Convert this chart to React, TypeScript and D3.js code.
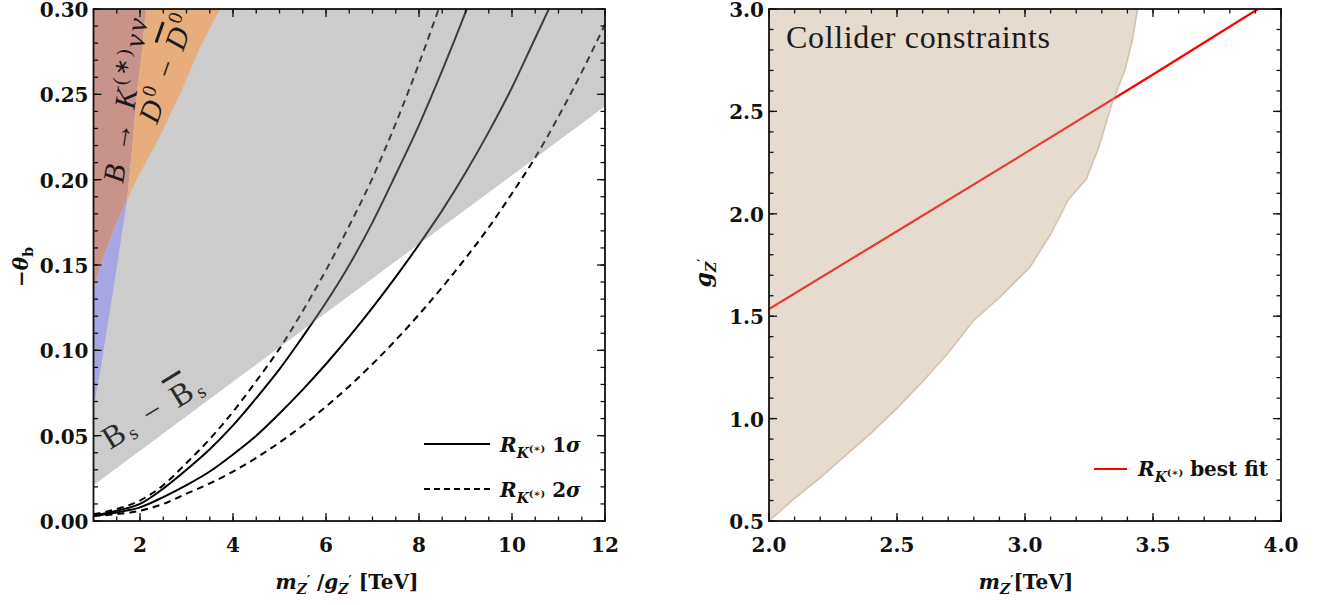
import * as d3 from "d3";

type Pt = [number, number];

// ---------- left panel: -theta_b against m_Z'/g_Z' [TeV]
const rk2Upper: Pt[] = [
  [1, 0.004], [1.5, 0.007], [2, 0.012], [2.5, 0.021], [3, 0.034], [3.5, 0.048],
  [4, 0.064], [4.5, 0.082], [5, 0.101], [5.5, 0.123], [6, 0.147], [6.5, 0.173],
  [7, 0.201], [7.5, 0.233], [8, 0.268], [8.5, 0.306],
];
const rk1Upper: Pt[] = [
  [1, 0.003], [1.5, 0.006], [2, 0.01], [2.5, 0.019], [3, 0.03], [3.5, 0.042],
  [4, 0.056], [4.5, 0.072], [5, 0.089], [5.5, 0.108], [6, 0.128], [6.5, 0.15],
  [7, 0.175], [7.5, 0.203], [8, 0.232], [8.5, 0.264], [9, 0.298], [9.5, 0.334],
];
const rk1Lower: Pt[] = [
  [1, 0.003], [1.5, 0.005], [2, 0.008], [2.5, 0.014], [3, 0.021], [3.5, 0.029],
  [4, 0.039], [4.5, 0.05], [5, 0.063], [5.5, 0.077], [6, 0.092], [6.5, 0.108],
  [7, 0.125], [7.5, 0.143], [8, 0.162], [8.5, 0.182], [9, 0.204], [9.5, 0.228],
  [10, 0.254], [10.5, 0.283], [11, 0.312],
];
const rk2Lower: Pt[] = [
  [1, 0.003], [1.5, 0.004], [2, 0.006], [2.5, 0.01], [3, 0.016], [3.5, 0.022],
  [4, 0.029], [4.5, 0.037], [5, 0.046], [5.5, 0.056], [6, 0.067], [6.5, 0.079],
  [7, 0.092], [7.5, 0.106], [8, 0.121], [8.5, 0.137], [9, 0.154], [9.5, 0.172],
  [10, 0.192], [10.5, 0.213], [11, 0.237], [11.5, 0.263], [12, 0.291],
];

// Bs mixing bound (straight edge of the grey area)
const bsEdge: Pt[] = [[1, 0.021], [12, 0.243]];
const bknnRegion: Pt[] = [
  [1, 0.3], [2.13, 0.3], [2.03, 0.272], [1.93, 0.25], [1.83, 0.218], [1.72, 0.188],
  [1.42, 0.17], [1.14, 0.149], [1, 0.135],
];
const ddRegion: Pt[] = [
  [2.13, 0.3], [3.72, 0.3], [3.3, 0.278], [2.86, 0.25], [2.4, 0.224], [1.92, 0.2],
  [1.72, 0.188], [1.83, 0.218], [1.93, 0.25], [2.03, 0.272],
];
const blueRegion: Pt[] = [
  [1, 0.135], [1.14, 0.149], [1.42, 0.17], [1.72, 0.188], [1.62, 0.17], [1.48, 0.145],
  [1.32, 0.118], [1.17, 0.092], [1, 0.066],
];

const leftXMajor = [2, 4, 6, 8, 10, 12];
const leftYMajor = [0, 0.05, 0.1, 0.15, 0.2, 0.25, 0.3];

// ---------- right panel: g_Z' against m_Z' [TeV]
const colliderEdge: Pt[] = [
  [2.0, 0.5], [2.1, 0.61], [2.2, 0.71], [2.3, 0.82], [2.4, 0.93], [2.5, 1.05],
  [2.6, 1.18], [2.7, 1.32], [2.8, 1.48], [2.9, 1.59], [3.02, 1.74], [3.1, 1.9],
  [3.17, 2.07], [3.24, 2.17], [3.29, 2.33], [3.34, 2.54], [3.39, 2.7], [3.42, 2.85],
  [3.44, 3.0],
];
const bestFit: Pt[] = [
  [2.0, 1.535], [2.5, 1.915], [3.0, 2.296], [3.5, 2.68], [3.91, 3.0],
];

const rightXMajor = [2, 2.5, 3, 3.5, 4];
const rightYMajor = [0.5, 1, 1.5, 2, 2.5, 3];

const TICK_FONT = "DejaVu Serif";
const MATH_FONT = "Liberation Serif";

type Scale = d3.ScaleLinear<number, number>;

function Frame(props: {
  x: Scale;
  y: Scale;
  xMajor: number[];
  xMinor: number[];
  yMajor: number[];
  yMinor: number[];
  xFmt: (v: number) => string;
  yFmt: (v: number) => string;
}) {
  const { x, y, xMajor, xMinor, yMajor, yMinor, xFmt, yFmt } = props;
  const [x0, x1] = x.range();
  const [y0, y1] = y.range(); // y0 bottom, y1 top
  const ticks: JSX.Element[] = [];
  const tx = (v: number, len: number, k: string) => {
    const px = x(v);
    ticks.push(<line key={"b" + k} x1={px} x2={px} y1={y0} y2={y0 - len} />);
    ticks.push(<line key={"t" + k} x1={px} x2={px} y1={y1} y2={y1 + len} />);
  };
  const ty = (v: number, len: number, k: string) => {
    const py = y(v);
    ticks.push(<line key={"l" + k} x1={x0} x2={x0 + len} y1={py} y2={py} />);
    ticks.push(<line key={"r" + k} x1={x1} x2={x1 - len} y1={py} y2={py} />);
  };
  xMinor.forEach((v, i) => tx(v, 4.5, "xm" + i));
  xMajor.forEach((v, i) => tx(v, 8, "xM" + i));
  yMinor.forEach((v, i) => ty(v, 4.5, "ym" + i));
  yMajor.forEach((v, i) => ty(v, 8, "yM" + i));
  return (
    <g>
      <g stroke="#111" strokeWidth={1.3}>{ticks}</g>
      <rect x={x0} y={y1} width={x1 - x0} height={y0 - y1} fill="none" stroke="#111" strokeWidth={1.8} />
      <g fontFamily={TICK_FONT} fontWeight="bold" fontSize={20} fill="#111">
        {xMajor.map((v) => (
          <text key={"xl" + v} x={x(v)} y={552} textAnchor="middle">{xFmt(v)}</text>
        ))}
        {yMajor.map((v) => (
          <text key={"yl" + v} x={x0 - 5} y={y(v) + 8} textAnchor="end">{yFmt(v)}</text>
        ))}
      </g>
    </g>
  );
}

// subscript Z with a prime, used in the axis titles
const zPrime = (
  <>
    <tspan fontStyle="italic" fontSize={14} dy={5}>Z</tspan>
    <tspan fontSize={12} dy={-9}>′</tspan>
    <tspan dy={4}> </tspan>
  </>
);

export default function App() {
  const xL = d3.scaleLinear().domain([1, 12]).range([93.5, 605]);
  const yL = d3.scaleLinear().domain([0, 0.3]).range([521, 9]);
  const xR = d3.scaleLinear().domain([2, 4]).range([769, 1281]);
  const yR = d3.scaleLinear().domain([0.5, 3]).range([521, 9]);

  const lineL = d3.line<Pt>().x((d) => xL(d[0])).y((d) => yL(d[1])).curve(d3.curveMonotoneX);
  const polyL = d3.line<Pt>().x((d) => xL(d[0])).y((d) => yL(d[1])).curve(d3.curveLinearClosed);
  const lineR = d3.line<Pt>().x((d) => xR(d[0])).y((d) => yR(d[1]));
  const polyR = d3.line<Pt>().x((d) => xR(d[0])).y((d) => yR(d[1])).curve(d3.curveLinearClosed);

  const grayPoly: Pt[] = [...bsEdge, [12, 0.3], [1, 0.3]];
  const colliderPoly: Pt[] = [...colliderEdge, [2, 3]];

  const sub = (
    <>
      <tspan fontStyle="italic" fontSize={14} dy={6}>K</tspan>
      <tspan fontSize={10} dy={-6}>(∗)</tspan>
    </>
  );

  return (
    <svg width={1325} height={605} style={{ position: "absolute", left: 0, top: 0 }}>
      <defs>
        <clipPath id="clipL">
          <rect x={93.5} y={9} width={511.5} height={512} />
        </clipPath>
        <clipPath id="clipR">
          <rect x={769} y={9} width={512} height={512} />
        </clipPath>
      </defs>
      <rect width={1325} height={605} fill="white" />

      {/* left panel */}
      <g clipPath="url(#clipL)">
        <g fill="none" stroke="#000" strokeWidth={2}>
          <path d={lineL(rk1Upper) ?? ""} />
          <path d={lineL(rk1Lower) ?? ""} />
          <path d={lineL(rk2Upper) ?? ""} strokeDasharray="7,5" />
          <path d={lineL(rk2Lower) ?? ""} strokeDasharray="7,5" />
        </g>
        <path d={polyL(grayPoly) ?? ""} fill="#8c8c8c" fillOpacity={0.44} />
        <path d={polyL(blueRegion) ?? ""} fill="#a6a6e2" />
        <path d={polyL(bknnRegion) ?? ""} fill="#c8938a" />
        <path d={polyL(ddRegion) ?? ""} fill="#e8ad7c" />
      </g>
      <g fontFamily={MATH_FONT} fontSize={30} fill="#1a1a1a">
        <text transform="translate(123,184) rotate(-81.4)" textLength={166} lengthAdjust="spacing">
          <tspan fontStyle="italic">B</tspan>
          <tspan> → </tspan>
          <tspan fontStyle="italic">K</tspan>
          <tspan fontSize={20} dy={-12}>(∗)</tspan>
          <tspan fontStyle="italic" dy={12}>νν</tspan>
        </text>
        <text transform="translate(157,125) rotate(-70.5)" textLength={112} lengthAdjust="spacing">
          <tspan fontStyle="italic">D</tspan>
          <tspan fontSize={20} dy={-12}>0</tspan>
          <tspan dy={12}> − </tspan>
          <tspan fontStyle="italic" style={{ textDecoration: "overline" }}>D</tspan>
          <tspan fontSize={20} dy={-12}>0</tspan>
        </text>
        <text transform="translate(110,450) rotate(-31.5)" fill="#2a2a2a" fontSize={32} textLength={112} lengthAdjust="spacing">
          <tspan>B</tspan>
          <tspan fontSize={20} dy={4}>s</tspan>
          <tspan dy={-4}> − </tspan>
          <tspan style={{ textDecoration: "overline" }}>B</tspan>
          <tspan fontSize={20} dy={4}>s</tspan>
        </text>
      </g>
      <Frame
        x={xL}
        y={yL}
        xMajor={leftXMajor}
        xMinor={d3.range(1, 12.01, 0.5)}
        yMajor={leftYMajor}
        yMinor={d3.range(0, 0.3001, 0.01)}
        xFmt={(v) => String(v)}
        yFmt={(v) => v.toFixed(2)}
      />
      {/* left legend */}
      <line x1={424} x2={490} y1={444} y2={444} stroke="#000" strokeWidth={2} />
      <line x1={424} x2={490} y1={489} y2={489} stroke="#000" strokeWidth={2} strokeDasharray="6,4" />
      <g fontFamily={TICK_FONT} fontWeight="bold" fontSize={20} fill="#111">
        <text x={500} y={452}>
          <tspan fontStyle="italic">R</tspan>
          {sub}
          <tspan> 1</tspan>
          <tspan fontStyle="italic">σ</tspan>
        </text>
        <text x={500} y={497}>
          <tspan fontStyle="italic">R</tspan>
          {sub}
          <tspan> 2</tspan>
          <tspan fontStyle="italic">σ</tspan>
        </text>
        {/* left axis titles */}
        <text x={347} y={589} textAnchor="middle">
          <tspan fontStyle="italic">m</tspan>
          {zPrime}
          <tspan>/</tspan>
          <tspan fontStyle="italic">g</tspan>
          {zPrime}
          <tspan>[TeV]</tspan>
        </text>
        <text transform="translate(28,267) rotate(-90)" textAnchor="middle">
          <tspan>−</tspan>
          <tspan fontStyle="italic">θ</tspan>
          <tspan fontSize={14} dy={5}>b</tspan>
        </text>
      </g>

      {/* right panel */}
      <g clipPath="url(#clipR)">
        <path d={lineR(bestFit) ?? ""} fill="none" stroke="#ff0000" strokeWidth={2.2} />
        <path d={polyR(colliderPoly) ?? ""} fill="rgb(189,160,130)" fillOpacity={0.38} />
        <path d={lineR(colliderEdge) ?? ""} fill="none" stroke="rgb(189,160,130)" strokeOpacity={0.55} strokeWidth={1.6} />
      </g>
      <text x={786} y={48} fontFamily={MATH_FONT} fontSize={32} fill="#1a1a1a" textLength={264} lengthAdjust="spacing">Collider constraints</text>
      <Frame
        x={xR}
        y={yR}
        xMajor={rightXMajor}
        xMinor={d3.range(2, 4.001, 0.1)}
        yMajor={rightYMajor}
        yMinor={d3.range(0.5, 3.001, 0.1)}
        xFmt={(v) => v.toFixed(1)}
        yFmt={(v) => v.toFixed(1)}
      />
      <line x1={1094} x2={1127} y1={469} y2={469} stroke="#ff0000" strokeWidth={2.2} />
      <g fontFamily={TICK_FONT} fontWeight="bold" fontSize={20} fill="#111">
        <text x={1138} y={476}>
          <tspan fontStyle="italic">R</tspan>
          {sub}
          <tspan> best fit</tspan>
        </text>
        <text x={1026} y={589} textAnchor="middle">
          <tspan fontStyle="italic">m</tspan>
          <tspan fontStyle="italic" fontSize={14} dy={5}>Z</tspan>
          <tspan fontSize={12} dy={-9}>′</tspan>
          <tspan dy={4}>[TeV]</tspan>
        </text>
        <text transform="translate(711,273) rotate(-90)" textAnchor="middle" fontSize={22}>
          <tspan fontStyle="italic">g</tspan>
          <tspan fontStyle="italic" fontSize={14} dy={5}>Z</tspan>
          <tspan fontSize={12} dy={-9}>′</tspan>
        </text>
      </g>
    </svg>
  );
}
